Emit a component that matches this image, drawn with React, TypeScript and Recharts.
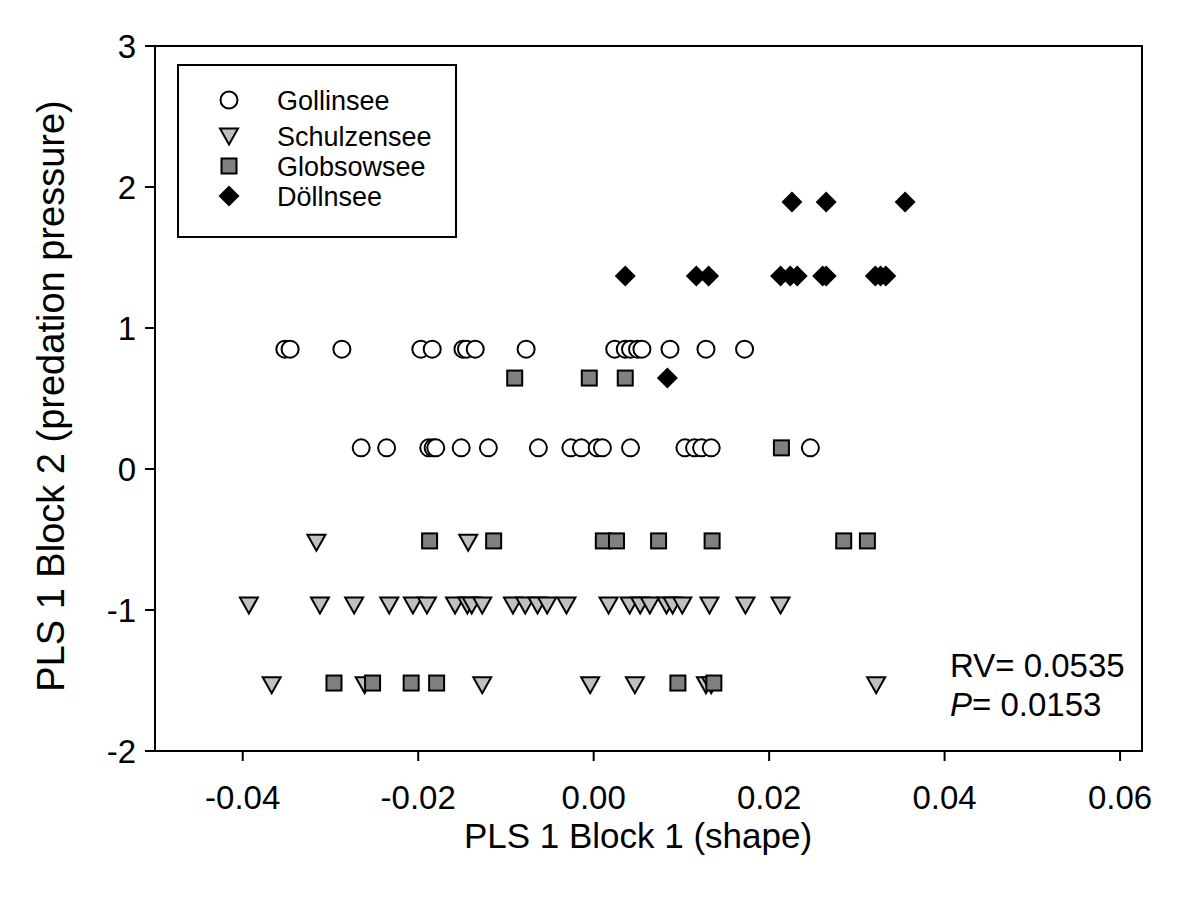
import React from 'react';
import { ScatterChart, Scatter, XAxis, YAxis, ReferenceArea, Legend } from 'recharts';

const FONT = '"Liberation Sans", Arial, sans-serif';

const xTicks = [-0.04, -0.02, 0.0, 0.02, 0.04, 0.06];
const yTicks = [-2, -1, 0, 1, 2, 3];
const xDomain = [-0.05, 0.0625];
const yDomain = [-2, 3];

const seriesNames = ['Gollinsee', 'Schulzensee', 'Globsowsee', 'Döllnsee'];

const gollinsee = [
  { x: -0.0352, y: 0.85 }, { x: -0.0346, y: 0.85 }, { x: -0.0287, y: 0.85 }, { x: -0.0197, y: 0.85 },
  { x: -0.0184, y: 0.85 }, { x: -0.0149, y: 0.85 }, { x: -0.0145, y: 0.85 }, { x: -0.0135, y: 0.85 },
  { x: -0.0077, y: 0.85 }, { x: 0.0024, y: 0.85 }, { x: 0.0036, y: 0.85 }, { x: 0.0042, y: 0.85 },
  { x: 0.005, y: 0.85 }, { x: 0.0055, y: 0.85 }, { x: 0.0087, y: 0.85 }, { x: 0.0128, y: 0.85 },
  { x: 0.0172, y: 0.85 },
  { x: -0.0265, y: 0.15 }, { x: -0.0236, y: 0.15 }, { x: -0.0188, y: 0.15 }, { x: -0.0183, y: 0.15 },
  { x: -0.018, y: 0.15 }, { x: -0.0151, y: 0.15 }, { x: -0.012, y: 0.15 }, { x: -0.0063, y: 0.15 },
  { x: -0.0026, y: 0.15 }, { x: -0.0014, y: 0.15 }, { x: 0.0004, y: 0.15 }, { x: 0.001, y: 0.15 },
  { x: 0.0042, y: 0.15 }, { x: 0.0104, y: 0.15 }, { x: 0.0115, y: 0.15 }, { x: 0.0123, y: 0.15 },
  { x: 0.0134, y: 0.15 }, { x: 0.0247, y: 0.15 },
];

const schulzensee = [
  { x: -0.0316, y: -0.52 }, { x: -0.0143, y: -0.52 },
  { x: -0.0393, y: -0.965 }, { x: -0.0312, y: -0.965 }, { x: -0.0273, y: -0.965 }, { x: -0.0233, y: -0.965 },
  { x: -0.0206, y: -0.965 }, { x: -0.019, y: -0.965 }, { x: -0.0158, y: -0.965 }, { x: -0.0144, y: -0.965 },
  { x: -0.0139, y: -0.965 }, { x: -0.0127, y: -0.965 }, { x: -0.0092, y: -0.965 }, { x: -0.0078, y: -0.965 },
  { x: -0.0064, y: -0.965 }, { x: -0.0053, y: -0.965 }, { x: -0.0031, y: -0.965 }, { x: 0.0017, y: -0.965 },
  { x: 0.0041, y: -0.965 }, { x: 0.0053, y: -0.965 }, { x: 0.0064, y: -0.965 }, { x: 0.0083, y: -0.965 },
  { x: 0.009, y: -0.965 }, { x: 0.0101, y: -0.965 }, { x: 0.0132, y: -0.965 }, { x: 0.0173, y: -0.965 },
  { x: 0.0213, y: -0.965 },
  { x: -0.0367, y: -1.53 }, { x: -0.0261, y: -1.53 }, { x: -0.0127, y: -1.53 }, { x: -0.0004, y: -1.53 },
  { x: 0.0047, y: -1.53 }, { x: 0.0128, y: -1.53 }, { x: 0.0134, y: -1.53 }, { x: 0.0322, y: -1.53 },
];

const globsowsee = [
  { x: -0.009, y: 0.645 }, { x: -0.0005, y: 0.645 }, { x: 0.0036, y: 0.645 },
  { x: 0.0214, y: 0.15 },
  { x: -0.0187, y: -0.51 }, { x: -0.0114, y: -0.51 }, { x: 0.0011, y: -0.51 }, { x: 0.0026, y: -0.51 },
  { x: 0.0074, y: -0.51 }, { x: 0.0135, y: -0.51 }, { x: 0.0285, y: -0.51 }, { x: 0.0312, y: -0.51 },
  { x: -0.0296, y: -1.518 }, { x: -0.0252, y: -1.518 }, { x: -0.0208, y: -1.518 }, { x: -0.0179, y: -1.518 },
  { x: 0.0096, y: -1.518 }, { x: 0.0137, y: -1.518 },
];

const dollnsee = [
  { x: 0.0226, y: 1.894 }, { x: 0.0265, y: 1.894 }, { x: 0.0355, y: 1.894 },
  { x: 0.0036, y: 1.369 }, { x: 0.0117, y: 1.369 }, { x: 0.0131, y: 1.369 }, { x: 0.0213, y: 1.369 },
  { x: 0.0224, y: 1.369 }, { x: 0.0232, y: 1.369 }, { x: 0.0261, y: 1.369 }, { x: 0.0265, y: 1.369 },
  { x: 0.0321, y: 1.369 }, { x: 0.0327, y: 1.369 }, { x: 0.0333, y: 1.369 },
  { x: 0.0084, y: 0.645 },
];

const CircleShape = (p: any) => (
  <circle cx={p.cx} cy={p.cy} r={8.5} fill="#ffffff" stroke="#000" strokeWidth={2} />
);
const TriangleShape = (p: any) => (
  <path
    d={`M${p.cx - 9},${p.cy - 7.5} L${p.cx + 9},${p.cy - 7.5} L${p.cx},${p.cy + 8.5} Z`}
    fill="#c0c0c0" stroke="#000" strokeWidth={2} strokeLinejoin="miter"
  />
);
const SquareShape = (p: any) => (
  <rect x={p.cx - 7.5} y={p.cy - 7.5} width={15} height={15} fill="#808080" stroke="#000" strokeWidth={2} />
);
const DiamondShape = (p: any) => (
  <path
    d={`M${p.cx},${p.cy - 10.5} L${p.cx + 10.5},${p.cy} L${p.cx},${p.cy + 10.5} L${p.cx - 10.5},${p.cy} Z`}
    fill="#000"
  />
);

const shapes = [CircleShape, TriangleShape, SquareShape, DiamondShape];
const legendRowY = [36, 72, 102, 132];

const LegendBox = () => (
  <svg width={280} height={174} style={{ display: 'block' }}>
    <rect x={1} y={1} width={278} height={172} fill="#fff" stroke="#000" strokeWidth={2} />
    {seriesNames.map((name, i) => {
      const Shape = shapes[i];
      return (
        <g key={name}>
          <Shape cx={52} cy={legendRowY[i]} />
          <text x={100} y={legendRowY[i] + 9.5} fontSize={27} fontFamily={FONT} fill="#000">{name}</text>
        </g>
      );
    })}
  </svg>
);

export default function App() {
  return (
    <div style={{ position: 'absolute', left: 0, top: 0, width: 1200, height: 903, background: '#fff' }}>
      <ScatterChart width={1200} height={903} margin={{ top: 46, right: 58, left: 0, bottom: 0 }}>
        <XAxis
          type="number"
          dataKey="x"
          domain={xDomain}
          ticks={xTicks}
          allowDataOverflow
          height={152}
          tickSize={10}
          tickMargin={25}
          tickFormatter={(v: number) => v.toFixed(2)}
          stroke="#000"
          strokeWidth={2}
          tick={{ fill: '#000', fontSize: 33, fontFamily: FONT }}
          tickLine={{ stroke: '#000', strokeWidth: 2 }}
        />
        <YAxis
          type="number"
          dataKey="y"
          domain={yDomain}
          ticks={yTicks}
          allowDataOverflow
          width={155}
          tickSize={10}
          tickMargin={9}
          stroke="#000"
          strokeWidth={2}
          tick={{ fill: '#000', fontSize: 33, fontFamily: FONT }}
          tickLine={{ stroke: '#000', strokeWidth: 2 }}
        />
        <ReferenceArea x1={xDomain[0]} x2={xDomain[1]} y1={yDomain[0]} y2={yDomain[1]} fill="none" fillOpacity={0} stroke="#000" strokeWidth={2} strokeOpacity={1} />
        <Legend
          layout="vertical"
          align="center"
          verticalAlign="middle"
          wrapperStyle={{ left: 177, top: 64, width: 280, height: 174 }}
          content={() => <LegendBox />}
        />
        <Scatter name="Gollinsee" data={gollinsee} shape={CircleShape} isAnimationActive={false} />
        <Scatter name="Schulzensee" data={schulzensee} shape={TriangleShape} isAnimationActive={false} />
        <Scatter name="Globsowsee" data={globsowsee} shape={SquareShape} isAnimationActive={false} />
        <Scatter name="Döllnsee" data={dollnsee} shape={DiamondShape} isAnimationActive={false} />
        <text x={638} y={848} textAnchor="middle" fontSize={35} fontFamily={FONT} fill="#000">PLS 1 Block 1 (shape)</text>
        <text x={64} y={396} transform="rotate(-90 64 396)" textAnchor="middle" fontSize={38} fontFamily={FONT} fill="#000">PLS 1 Block 2 (predation pressure)</text>
        <text x={950} y={677} fontSize={33} fontFamily={FONT} fill="#000">RV= 0.0535</text>
        <text x={950} y={716} fontSize={33} fontFamily={FONT} fill="#000"><tspan fontStyle="italic">P</tspan>= 0.0153</text>
      </ScatterChart>
    </div>
  );
}
